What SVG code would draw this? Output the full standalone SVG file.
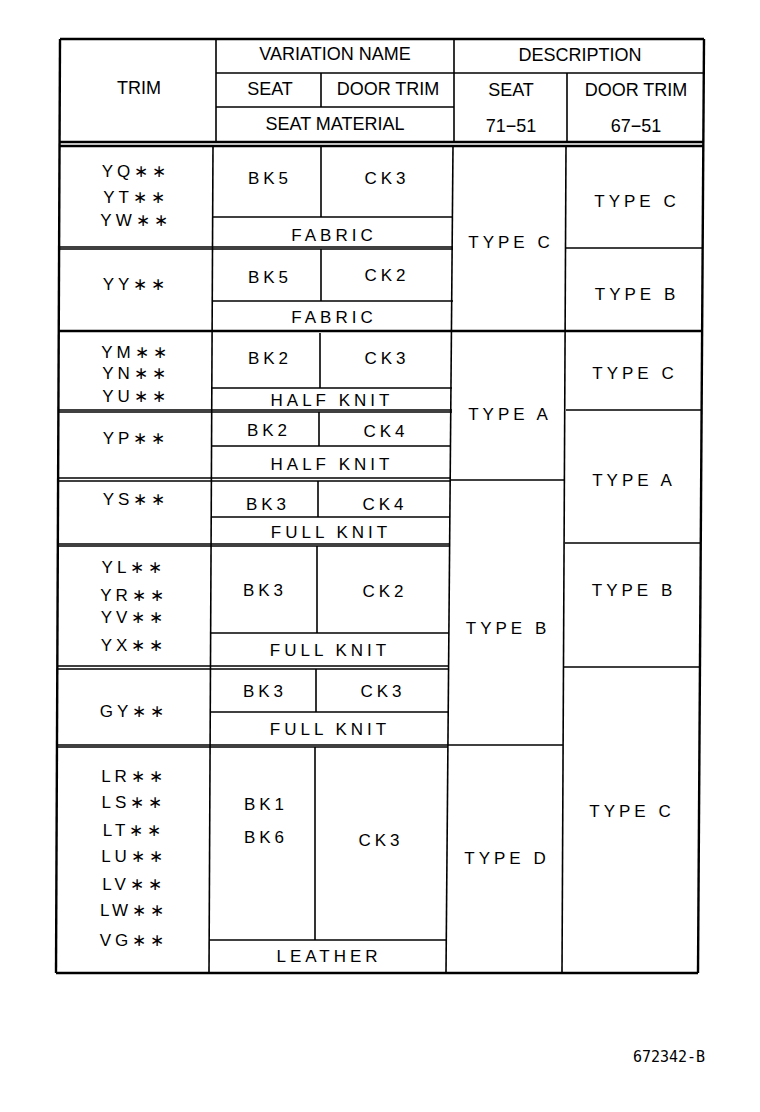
<svg xmlns="http://www.w3.org/2000/svg" width="760" height="1112" viewBox="0 0 760 1112">
<style>
line{stroke:#000;stroke-width:1.6}
.o{stroke-width:2.4}
text{font-family:"Liberation Sans",Arial,sans-serif;font-size:17px;fill:#000;text-anchor:middle}
.b{letter-spacing:4px}
.h{font-size:18px}
</style>
<rect width="760" height="1112" fill="#fff"/>
<g id="header">
<line class="o" x1="60" y1="39" x2="704" y2="39"/>
<line x1="216" y1="73" x2="704" y2="73"/>
<line x1="216" y1="107" x2="454" y2="107"/>
<line class="o" x1="60" y1="142" x2="704" y2="142"/>
<line x1="216" y1="39" x2="216" y2="142"/>
<line x1="321" y1="73" x2="321" y2="107"/>
<line x1="454" y1="39" x2="454" y2="142"/>
<line x1="567" y1="73" x2="567" y2="142"/>
<text class="h" x="139" y="94">TRIM</text>
<text class="h" x="335" y="60">VARIATION NAME</text>
<text class="h" x="580" y="61">DESCRIPTION</text>
<text class="h" x="270" y="95">SEAT</text>
<text class="h" x="388" y="95">DOOR TRIM</text>
<text class="h" x="511" y="96">SEAT</text>
<text class="h" x="636" y="96">DOOR TRIM</text>
<text class="h" x="335" y="130">SEAT MATERIAL</text>
<text class="h" x="511" y="132">71−51</text>
<text class="h" x="636" y="132">67−51</text>
</g>
<g id="frame">
<line class="o" x1="60" y1="39" x2="56" y2="973"/>
<line class="o" x1="704" y1="39" x2="698" y2="973"/>
<line class="o" x1="56" y1="973" x2="698" y2="973"/>
<line class="o" x1="60" y1="146" x2="704" y2="146"/>
<line x1="213" y1="146" x2="209" y2="973"/>
<line x1="453" y1="146" x2="446" y2="973"/>
<line x1="566" y1="146" x2="562" y2="973"/>
</g>
<g id="lines">
<!-- row1 -->
<line x1="321" y1="146" x2="321" y2="217"/><line x1="213" y1="217" x2="453" y2="217"/>
<line x1="60" y1="247" x2="453" y2="247"/><line x1="566" y1="248" x2="703" y2="248"/>
<!-- row2 -->
<line x1="60" y1="249" x2="453" y2="249"/>
<line x1="321" y1="249" x2="321" y2="301"/><line x1="213" y1="301" x2="453" y2="301"/>
<line class="o" x1="59" y1="331" x2="703" y2="331"/>
<!-- row3 -->
<line x1="320" y1="333" x2="320" y2="388"/><line x1="212" y1="388" x2="452" y2="388"/>
<line x1="59" y1="410" x2="452" y2="410"/><line x1="566" y1="410" x2="702" y2="410"/>
<line x1="59" y1="412" x2="452" y2="412"/>
<!-- row4 -->
<line x1="319" y1="412" x2="319" y2="446"/><line x1="212" y1="446" x2="451" y2="446"/>
<line x1="59" y1="478" x2="451" y2="478"/><line x1="451" y1="480" x2="565" y2="480"/>
<line x1="59" y1="481" x2="451" y2="481"/>
<!-- row5 -->
<line x1="318" y1="481" x2="318" y2="517"/><line x1="211" y1="517" x2="450" y2="517"/>
<line x1="58" y1="544" x2="450" y2="544"/><line x1="565" y1="543" x2="701" y2="543"/>
<line x1="58" y1="546" x2="450" y2="546"/>
<!-- row6 -->
<line x1="317" y1="546" x2="317" y2="633"/><line x1="211" y1="633" x2="449" y2="633"/>
<line x1="58" y1="666" x2="449" y2="666"/><line x1="564" y1="667" x2="700" y2="667"/>
<line x1="57" y1="669" x2="449" y2="669"/>
<!-- row7 -->
<line x1="316" y1="669" x2="316" y2="712"/><line x1="210" y1="712" x2="448" y2="712"/>
<line x1="57" y1="745" x2="563" y2="745"/>
<line x1="57" y1="747" x2="448" y2="747"/>
<!-- row8 -->
<line x1="315" y1="747" x2="315" y2="940"/><line x1="209" y1="940" x2="446" y2="940"/>
</g>
<g id="texts">
<text class="b" x="136" y="177">YQ∗∗</text>
<text class="b" x="136" y="203">YT∗∗</text>
<text class="b" x="136" y="226">YW∗∗</text>
<text class="b" x="270" y="184">BK5</text>
<text class="b" x="387" y="184">CK3</text>
<text class="b" x="334" y="241">FABRIC</text>
<text class="b" x="511" y="248">TYPE C</text>
<text class="b" x="637" y="207">TYPE C</text>
<text class="b" x="136" y="290">YY∗∗</text>
<text class="b" x="270" y="283">BK5</text>
<text class="b" x="387" y="281">CK2</text>
<text class="b" x="334" y="323">FABRIC</text>
<text class="b" x="637" y="300">TYPE B</text>
<text class="b" x="136" y="358">YM∗∗</text>
<text class="b" x="136" y="379">YN∗∗</text>
<text class="b" x="136" y="402">YU∗∗</text>
<text class="b" x="270" y="364">BK2</text>
<text class="b" x="387" y="364">CK3</text>
<text class="b" x="332" y="406">HALF KNIT</text>
<text class="b" x="510" y="420">TYPE A</text>
<text class="b" x="635" y="379">TYPE C</text>
<text class="b" x="136" y="444">YP∗∗</text>
<text class="b" x="269" y="436">BK2</text>
<text class="b" x="386" y="437">CK4</text>
<text class="b" x="332" y="470">HALF KNIT</text>
<text class="b" x="634" y="486">TYPE A</text>
<text class="b" x="136" y="505">YS∗∗</text>
<text class="b" x="268" y="510">BK3</text>
<text class="b" x="385" y="510">CK4</text>
<text class="b" x="331" y="538">FULL KNIT</text>
<text class="b" x="508" y="634">TYPE B</text>
<text class="b" x="634" y="596">TYPE B</text>
<text class="b" x="134" y="573">YL∗∗</text>
<text class="b" x="134" y="601">YR∗∗</text>
<text class="b" x="134" y="623">YV∗∗</text>
<text class="b" x="134" y="651">YX∗∗</text>
<text class="b" x="265" y="596">BK3</text>
<text class="b" x="385" y="597">CK2</text>
<text class="b" x="330" y="656">FULL KNIT</text>
<text class="b" x="134" y="717">GY∗∗</text>
<text class="b" x="265" y="697">BK3</text>
<text class="b" x="383" y="697">CK3</text>
<text class="b" x="330" y="735">FULL KNIT</text>
<text class="b" x="632" y="817">TYPE C</text>
<text class="b" x="134" y="782">LR∗∗</text>
<text class="b" x="134" y="808">LS∗∗</text>
<text class="b" x="134" y="836">LT∗∗</text>
<text class="b" x="134" y="862">LU∗∗</text>
<text class="b" x="134" y="890">LV∗∗</text>
<text class="b" x="134" y="916">LW∗∗</text>
<text class="b" x="134" y="946">VG∗∗</text>
<text class="b" x="266" y="810">BK1</text>
<text class="b" x="266" y="843">BK6</text>
<text class="b" x="381" y="846">CK3</text>
<text class="b" x="507" y="864">TYPE D</text>
<text class="b" x="329" y="962">LEATHER</text>
<text x="669" y="1062" style="font-family:'DejaVu Sans Mono',monospace;font-size:15px">672342-B</text>
</g>
</svg>
